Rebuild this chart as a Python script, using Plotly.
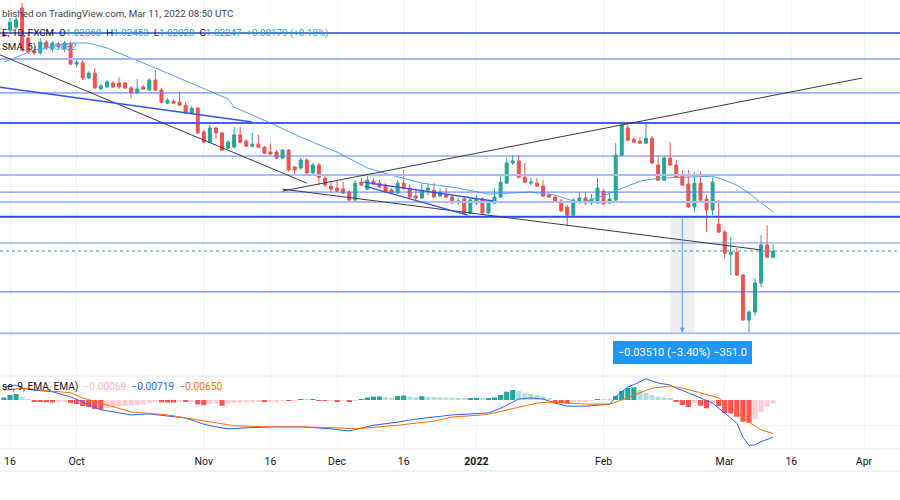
import pandas as pd
import plotly.graph_objects as go

# ---------------- data (EUR/CHF daily, FXCM) ----------------
dates = pd.bdate_range("2021-09-15", "2022-03-11")

open_ = [1.0881, 1.0893, 1.0902, 1.0960, 1.0869, 1.0830, 1.0824, 1.0857, 1.0836, 1.0851, 1.0836, 1.0850,
         1.0790, 1.0794, 1.0748, 1.0763, 1.0715, 1.0721, 1.0733, 1.0733, 1.0733, 1.0718, 1.0703, 1.0721,
         1.0712, 1.0742, 1.0712, 1.0672, 1.0678, 1.0675, 1.0666, 1.0642, 1.0657,
         1.0585, 1.0554, 1.0597, 1.0582, 1.0536, 1.0539, 1.0576, 1.0557, 1.0542, 1.0548, 1.0539, 1.0524,
         1.0524, 1.0506, 1.0530, 1.0479, 1.0476, 1.0500, 1.0461, 1.0485, 1.0445, 1.0421,
         1.0415, 1.0412, 1.0403, 1.0379, 1.0433, 1.0412, 1.0436, 1.0430, 1.0424, 1.0409, 1.0400, 1.0430,
         1.0415, 1.0391, 1.0385, 1.0409, 1.0409, 1.0391, 1.0394, 1.0388, 1.0373, 1.0382, 1.0340,
         1.0370, 1.0382, 1.0340, 1.0370, 1.0388, 1.0430, 1.0491, 1.0497, 1.0448, 1.0430, 1.0430, 1.0421,
         1.0394, 1.0388, 1.0376, 1.0358, 1.0333, 1.0376, 1.0385, 1.0370, 1.0370,
         1.0406, 1.0370, 1.0379, 1.0515, 1.0597, 1.0563, 1.0557, 1.0551, 1.0566, 1.0485, 1.0439, 1.0506,
         1.0485, 1.0451, 1.0427, 1.0358, 1.0430, 1.0382, 1.0349, 1.0306,
         1.0282, 1.0215, 1.0221, 1.0152, 1.0016, 1.0040, 1.0128, 1.0243, 1.02060]
high_ = [1.0884, 1.0930, 1.0933, 1.0975, 1.0884, 1.0842, 1.0869, 1.0863, 1.0860, 1.0857, 1.0860, 1.0858,
         1.0809, 1.0809, 1.0769, 1.0778, 1.0730, 1.0742, 1.0739, 1.0751, 1.0736, 1.0724, 1.0745, 1.0727,
         1.0748, 1.0772, 1.0718, 1.0688, 1.0684, 1.0706, 1.0675, 1.0663, 1.0660,
         1.0591, 1.0606, 1.0600, 1.0585, 1.0560, 1.0600, 1.0600, 1.0563, 1.0582, 1.0576, 1.0542, 1.0551,
         1.0530, 1.0533, 1.0533, 1.0482, 1.0506, 1.0506, 1.0491, 1.0491, 1.0451, 1.0433,
         1.0436, 1.0433, 1.0409, 1.0439, 1.0445, 1.0458, 1.0445, 1.0439, 1.0430, 1.0415, 1.0439, 1.0470,
         1.0424, 1.0415, 1.0430, 1.0430, 1.0430, 1.0415, 1.0415, 1.0394, 1.0385, 1.0388, 1.0385,
         1.0391, 1.0388, 1.0379, 1.0415, 1.0451, 1.0506, 1.0515, 1.0515, 1.0491, 1.0448, 1.0445, 1.0439,
         1.0400, 1.0394, 1.0382, 1.0364, 1.0385, 1.0403, 1.0403, 1.0397, 1.0445,
         1.0412, 1.0406, 1.0551, 1.0612, 1.0609, 1.0569, 1.0569, 1.0615, 1.0573, 1.0515, 1.0512,
         1.0554, 1.0500, 1.0470, 1.0470, 1.0464, 1.0464, 1.0394, 1.0448, 1.0379,
         1.0288, 1.0267, 1.0234, 1.0155, 1.0046, 1.0143, 1.0273, 1.0303, 1.02453]
low_ = [1.0872, 1.0884, 1.0893, 1.0827, 1.0821, 1.0818, 1.0818, 1.0833, 1.0827, 1.0836, 1.0827, 1.0787,
        1.0781, 1.0742, 1.0745, 1.0715, 1.0712, 1.0718, 1.0718, 1.0715, 1.0715, 1.0688, 1.0700, 1.0712,
        1.0709, 1.0709, 1.0672, 1.0669, 1.0669, 1.0663, 1.0639, 1.0639, 1.0579,
        1.0551, 1.0551, 1.0566, 1.0527, 1.0533, 1.0536, 1.0551, 1.0539, 1.0539, 1.0536, 1.0518, 1.0515,
        1.0503, 1.0503, 1.0464, 1.0451, 1.0470, 1.0458, 1.0458, 1.0424, 1.0418, 1.0400,
        1.0403, 1.0397, 1.0376, 1.0370, 1.0421, 1.0409, 1.0424, 1.0415, 1.0400, 1.0397, 1.0397, 1.0409,
        1.0385, 1.0379, 1.0382, 1.0394, 1.0385, 1.0388, 1.0385, 1.0367, 1.0364, 1.0336, 1.0336,
        1.0364, 1.0336, 1.0336, 1.0367, 1.0385, 1.0427, 1.0485, 1.0445, 1.0430, 1.0424, 1.0418, 1.0388,
        1.0385, 1.0370, 1.0343, 1.0300, 1.0330, 1.0370, 1.0364, 1.0364, 1.0367,
        1.0364, 1.0367, 1.0376, 1.0512, 1.0557, 1.0551, 1.0548, 1.0548, 1.0488, 1.0436, 1.0436,
        1.0482, 1.0445, 1.0421, 1.0355, 1.0343, 1.0376, 1.0282, 1.0333, 1.0279,
        1.0203, 1.0152, 1.0149, 1.0013, 0.9976, 1.0028, 1.0116, 1.0203, 1.02028]
close_ = [1.0875, 1.0917, 1.0924, 1.0833, 1.0827, 1.0824, 1.0857, 1.0839, 1.0854, 1.0842, 1.0854, 1.0790,
          1.0796, 1.0748, 1.0763, 1.0718, 1.0724, 1.0736, 1.0721, 1.0721, 1.0718, 1.0703, 1.0715, 1.0715,
          1.0742, 1.0712, 1.0675, 1.0681, 1.0672, 1.0666, 1.0642, 1.0657, 1.0582,
          1.0554, 1.0597, 1.0582, 1.0530, 1.0554, 1.0576, 1.0554, 1.0542, 1.0548, 1.0539, 1.0521, 1.0518,
          1.0506, 1.0530, 1.0470, 1.0470, 1.0500, 1.0461, 1.0485, 1.0448, 1.0424, 1.0412,
          1.0406, 1.0400, 1.0379, 1.0430, 1.0424, 1.0439, 1.0427, 1.0418, 1.0403, 1.0400, 1.0430, 1.0415,
          1.0388, 1.0385, 1.0409, 1.0415, 1.0388, 1.0403, 1.0388, 1.0370, 1.0376, 1.0340, 1.0379,
          1.0382, 1.0340, 1.0373, 1.0388, 1.0433, 1.0491, 1.0497, 1.0448, 1.0433, 1.0433, 1.0421, 1.0391,
          1.0388, 1.0373, 1.0346, 1.0333, 1.0379, 1.0385, 1.0370, 1.0382, 1.0415,
          1.0367, 1.0382, 1.0515, 1.0606, 1.0560, 1.0554, 1.0551, 1.0566, 1.0491, 1.0439, 1.0506,
          1.0485, 1.0448, 1.0424, 1.0358, 1.0430, 1.0379, 1.0349, 1.0433, 1.0282,
          1.0218, 1.0221, 1.0152, 1.0016, 1.0040, 1.0128, 1.0243, 1.0206, 1.02247]

sma_dates = ["2021-09-15", "2021-09-22", "2021-09-30", "2021-10-05", "2021-10-08", "2021-10-14",
             "2021-10-22", "2021-10-29", "2021-11-05", "2021-11-08", "2021-11-16", "2021-11-23",
             "2021-12-01", "2021-12-08", "2021-12-14", "2021-12-21", "2021-12-29", "2022-01-05",
             "2022-01-14", "2022-01-20", "2022-01-26", "2022-01-31", "2022-02-02", "2022-02-09",
             "2022-02-14", "2022-02-23", "2022-02-25", "2022-03-01", "2022-03-03", "2022-03-07",
             "2022-03-09", "2022-03-11"]
sma_vals = [1.0796, 1.0833, 1.0854, 1.0854, 1.0839, 1.0809, 1.0763, 1.0724, 1.0685, 1.0660, 1.0612,
            1.0569, 1.0524, 1.0476, 1.0454, 1.0430, 1.0415, 1.0397, 1.0403, 1.0394, 1.0370, 1.0385,
            1.0400, 1.0436, 1.0445, 1.0448, 1.0451, 1.0439, 1.0424, 1.0400, 1.0370, 1.0343]

macd_dates = ["2021-09-15", "2021-09-17", "2021-09-20", "2021-09-22", "2021-09-27", "2021-09-30",
              "2021-10-04", "2021-10-06", "2021-10-07", "2021-10-12", "2021-10-14", "2021-10-19",
              "2021-10-22", "2021-10-27", "2021-10-29", "2021-11-01", "2021-11-03", "2021-11-05",
              "2021-11-10", "2021-11-17", "2021-11-23", "2021-11-26", "2021-11-30", "2021-12-03",
              "2021-12-07", "2021-12-09", "2021-12-15", "2021-12-20", "2021-12-23", "2021-12-28",
              "2021-12-31", "2022-01-05", "2022-01-07", "2022-01-12", "2022-01-14", "2022-01-18",
              "2022-01-20", "2022-01-24", "2022-01-27", "2022-02-01", "2022-02-02", "2022-02-03",
              "2022-02-04", "2022-02-07", "2022-02-08", "2022-02-10", "2022-02-11", "2022-02-14",
              "2022-02-16", "2022-02-17", "2022-02-21", "2022-02-23", "2022-02-25", "2022-02-28",
              "2022-03-01", "2022-03-03", "2022-03-04", "2022-03-07", "2022-03-08", "2022-03-09",
              "2022-03-10", "2022-03-11"]
macd_vals = [0.0025, 0.0029, 0.0023, 0.0019, 0.0016, 0.0006, -0.0004, -0.0014, -0.0019, -0.0025,
             -0.0029, -0.0027, -0.0031, -0.0035, -0.0043, -0.0047, -0.0052, -0.0056, -0.0054, -0.0052,
             -0.0052, -0.0054, -0.0056, -0.0060, -0.0054, -0.0049, -0.0043, -0.0037, -0.0033, -0.0029,
             -0.0027, -0.0025, -0.0016, 0.0002, 0.0004, 0.0002, -0.0006, -0.0012, -0.0012, -0.0010,
             -0.0008, 0.0006, 0.0016, 0.0025, 0.0030, 0.0041, 0.0037, 0.0033, 0.0029, 0.0023, 0.0014,
             0.0004, -0.0006, -0.0016, -0.0025, -0.0045, -0.0072, -0.0088, -0.0087, -0.0081, -0.0076,
             -0.00719]

signal_dates = ["2021-09-15", "2021-09-20", "2021-09-23", "2021-09-30", "2021-10-04", "2021-10-07",
                "2021-10-14", "2021-10-22", "2021-10-29", "2021-11-08", "2021-11-16", "2021-11-23",
                "2021-12-01", "2021-12-06", "2021-12-08", "2021-12-15", "2021-12-23", "2021-12-28",
                "2022-01-04", "2022-01-06", "2022-01-12", "2022-01-17", "2022-01-19", "2022-01-27",
                "2022-02-02", "2022-02-04", "2022-02-09", "2022-02-11", "2022-02-16", "2022-02-18",
                "2022-02-23", "2022-02-28", "2022-03-02", "2022-03-07", "2022-03-09", "2022-03-11"]
signal_vals = [0.0019, 0.0023, 0.0019, 0.0014, 0.0004, -0.0006, -0.0023, -0.0029, -0.0038, -0.0050,
               -0.0052, -0.0052, -0.0054, -0.0056, -0.0054, -0.0049, -0.0041, -0.0033, -0.0029,
               -0.0025, -0.0014, -0.0006, -0.0004, -0.0008, -0.0008, 0.0000, 0.0014, 0.0023, 0.0027,
               0.0023, 0.0014, 0.0004, -0.0014, -0.0043, -0.0058, -0.00650]

hist_vals = [0.00049, 0.00097, 0.00116, 0.00058, 0.00006, -0.00029, -0.00039, -0.00043, -0.00047,
             -0.00039, -0.00029, -0.00058,
             -0.00078, -0.00116, -0.00136, -0.00175, -0.00184, -0.00155, -0.00136, -0.00126, -0.00116,
             -0.00107, -0.00097, -0.00087, -0.00068, -0.00039, -0.00045, -0.00049, -0.00050, -0.00031,
             -0.00039, -0.00035, -0.00087,
             -0.00101, -0.00078, -0.00068, -0.00111, -0.00068, -0.00054, -0.00049, -0.00043, -0.00035,
             -0.00029, -0.00039, -0.00029, -0.00023, -0.00010, -0.00014, -0.00008, 0.00008, 0.00006,
             0.00010, -0.00012, -0.00017, -0.00012,
             -0.00025, -0.00019, -0.00033, -0.00016, 0.00010, 0.00049, 0.00064, 0.00068, 0.00054,
             0.00047, 0.00078, 0.00087, 0.00068, 0.00058, 0.00074, 0.00064, 0.00058, 0.00052, 0.00049,
             0.00045, 0.00039, 0.00029, 0.00035,
             0.00039, 0.00023, 0.00029, 0.00049, 0.00097, 0.00161, 0.00194, 0.00180, 0.00142, 0.00116,
             0.00097, 0.00064, 0.00033, -0.00033, -0.00064, -0.00068, -0.00039, -0.00029, -0.00023,
             -0.00016, 0.00014,
             0.00008, 0.00006, 0.00078, 0.00175, 0.00233, 0.00246, 0.00194, 0.00142, 0.00097, 0.00064,
             0.00045, 0.00025, -0.00033, -0.00097, -0.00136, -0.00064, -0.00111, -0.00161, -0.00064,
             -0.00116,
             -0.00252, -0.00262, -0.00324, -0.00421, -0.00440, -0.00369, -0.00227, -0.00130, -0.00069]

# analyst drawings (price levels / trendline anchors)
h_levels = [1.0884, 1.0806, 1.0703, 1.0612, 1.0512, 1.0455, 1.0403, 1.0373, 1.0328, 1.0249, 1.0101, 0.9976]
trend_start = [("2021-09-14", 1.0821), ("2021-11-18", 1.0406), ("2021-11-18", 1.0412),
               ("2021-09-14", 1.0721), ("2021-12-07 08:00", 1.0433), ("2021-12-07 14:00", 1.0421)]
trend_end = [("2021-11-24", 1.0430), ("2022-03-31 16:00", 1.0748), ("2022-03-09", 1.0228),
             ("2021-11-11", 1.0615), ("2022-01-05 18:00", 1.0376), ("2021-12-30 14:00", 1.0333)]
measure_top, measure_bottom = 1.0328, 0.9977
measure_start, measure_mid, measure_end = "2022-02-16", "2022-02-18", "2022-02-22"
last_close = 1.02247

tick_dates = ["2021-09-16", "2021-10-01", "2021-11-01", "2021-11-16", "2021-12-01", "2021-12-16",
              "2022-01-03", "2022-02-01", "2022-03-01", "2022-03-16", "2022-04-01"]
tick_text = ["16", "Oct", "Nov", "16", "Dec", "16", "<b>2022</b>", "Feb", "Mar", "16", "Apr"]

# ---------------- styles ----------------
UP, DN = "#26a69a", "#ef5350"
GRID = "#f0f3fa"
FONT = "Roboto"
h_colors = ["#2a4bd7", "#a3b6f7", "#5674f2", "#3f62f0", "#5c7cf5", "#aabdf8",
            "#5576f3", "#aabdf8", "#2850e0", "#6f8cf5", "#4a6cf2", "#a9bdf7"]
h_widths = [1.5, 2, 1, 2, 1, 2, 1, 2, 2, 1, 1, 2]
trend_colors = ["#3a3d47", "#3a3d47", "#3a3d47", "#2f55ee", "#2f55ee", "#2f55ee"]
trend_widths = [1, 1, 1, 1.6, 1.3, 1.3]

hist_colors = []
prev = 0.0
for h in hist_vals:
    if h >= 0:
        hist_colors.append("#26a69a" if h > prev else "#b2dfdb")
    else:
        hist_colors.append("#ff5252" if h < prev else "#ffcdd2")
    prev = h

fig = go.Figure()
fig.add_trace(go.Candlestick(
    x=dates, open=open_, high=high_, low=low_, close=close_,
    increasing=dict(line=dict(color=UP, width=1), fillcolor=UP),
    decreasing=dict(line=dict(color=DN, width=1), fillcolor=DN),
    whiskerwidth=0, xaxis="x", yaxis="y", showlegend=False))
fig.add_trace(go.Scatter(x=sma_dates, y=sma_vals, mode="lines",
                         line=dict(color="#4fa3f7", width=1), xaxis="x", yaxis="y", showlegend=False))
fig.add_trace(go.Bar(x=dates, y=hist_vals, marker=dict(color=hist_colors, line=dict(width=0)),
                     width=0.85 * 86400000, xaxis="x2", yaxis="y2", showlegend=False))
fig.add_trace(go.Scatter(x=macd_dates, y=macd_vals, mode="lines",
                         line=dict(color="#2962ff", width=1), xaxis="x2", yaxis="y2", showlegend=False))
fig.add_trace(go.Scatter(x=signal_dates, y=signal_vals, mode="lines",
                         line=dict(color="#ff6d00", width=1), xaxis="x2", yaxis="y2", showlegend=False))

shapes = []
# measure box
shapes.append(dict(type="rect", xref="x", yref="y", x0=measure_start, x1=measure_end,
                   y0=measure_bottom, y1=measure_top, fillcolor="rgba(120,123,134,0.13)",
                   line=dict(width=0), layer="below"))
for lvl, c, w in zip(h_levels, h_colors, h_widths):
    shapes.append(dict(type="line", xref="paper", yref="y", x0=0, x1=1, y0=lvl, y1=lvl,
                       line=dict(color=c, width=w), layer="above"))
for (xa, ya), (xb, yb), c, w in zip(trend_start, trend_end, trend_colors, trend_widths):
    shapes.append(dict(type="line", xref="x", yref="y", x0=xa, y0=ya, x1=xb, y1=yb,
                       line=dict(color=c, width=w), layer="above"))
shapes.append(dict(type="line", xref="paper", yref="y", x0=0, x1=1, y0=last_close, y1=last_close,
                   line=dict(color="#26a69a", width=1, dash="dot"), layer="above"))
# pane separators / time axis band
for yp in [0.248, 0.102, 0.058]:
    shapes.append(dict(type="line", xref="paper", yref="paper", x0=0, x1=1, y0=yp, y1=yp,
                       line=dict(color="#e0e3eb", width=1), layer="above"))

NB = "\u00a0"
ann = []
ann.append(dict(x=0, y=1 - 13 / 500, xref="paper", yref="paper", xanchor="left", yanchor="middle",
                showarrow=False, text="blished on TradingView.com, Mar 11, 2022 08:50 UTC",
                font=dict(family=FONT, size=9.8, color="#434651")))
tc = "#26a69a"
ohlc_txt = (f"E, 1D, FXCM{NB}{NB}O<span style='color:{tc}'>1.02060</span>{NB}{NB}"
            f"H<span style='color:{tc}'>1.02453</span>{NB}{NB}L<span style='color:{tc}'>1.02028</span>"
            f"{NB}{NB}C<span style='color:{tc}'>1.02247</span>{NB}{NB}"
            f"<span style='color:{tc}'>+0.00179 (+0.18%)</span>")
ann.append(dict(x=0, y=1 - 33 / 500, xref="paper", yref="paper", xanchor="left", yanchor="middle",
                showarrow=False, text=ohlc_txt, font=dict(family=FONT, size=9.8, color="#131722")))
ann.append(dict(x=0, y=1 - 47 / 500, xref="paper", yref="paper", xanchor="left", yanchor="middle",
                showarrow=False,
                text=f"SMA, 5){NB}{NB}<span style='color:#4fa3f7'>1.03882</span>",
                font=dict(family=FONT, size=9.8, color="#131722")))
macd_txt = (f"se, 9, EMA, EMA){NB}{NB}<span style='color:#ffb3bd'>\u22120.00069</span>{NB}{NB}"
            f"<span style='color:#2962ff'>\u22120.00719</span>{NB}{NB}"
            f"<span style='color:#ff6d00'>\u22120.00650</span>")
ann.append(dict(x=0, y=1 - 387 / 500, xref="paper", yref="paper", xanchor="left", yanchor="middle",
                showarrow=False, text=macd_txt, font=dict(family=FONT, size=10.2, color="#131722")))
# measure arrow + label
ann.append(dict(x=measure_mid, y=measure_bottom, xref="x", yref="y", ax=measure_mid, ay=measure_top,
                axref="x", ayref="y", showarrow=True, arrowhead=2, arrowsize=1, arrowwidth=1,
                arrowcolor="#5b9cf6", text=""))
ann.append(dict(x=measure_mid, y=0.9919, xref="x", yref="y", xanchor="center", yanchor="middle",
                showarrow=False, text="\u22120.03510 (\u22123.40%) \u2212351.0",
                bgcolor="#2196f3", bordercolor="#2196f3", borderpad=4,
                font=dict(family=FONT, size=11, color="white")))

x_range = ["2021-09-14 08:22", "2022-04-08 22:34"]
rb = [dict(bounds=["sat", "mon"])]
fig.update_layout(
    width=900, height=500, margin=dict(l=0, r=0, t=0, b=0),
    paper_bgcolor="white", plot_bgcolor="white", showlegend=False, hovermode=False,
    shapes=shapes, annotations=ann,
    xaxis=dict(domain=[0, 1], anchor="y", range=x_range, rangebreaks=rb, tickvals=tick_dates,
               showticklabels=False, showgrid=True, gridcolor=GRID, zeroline=False, showline=False,
               rangeslider=dict(visible=False), ticks=""),
    xaxis2=dict(domain=[0, 1], anchor="y2", range=x_range, rangebreaks=rb, tickvals=tick_dates,
                ticktext=tick_text, showticklabels=True, showgrid=True, gridcolor=GRID,
                zeroline=False, showline=False, ticks="", ticklabelstandoff=4,
                tickfont=dict(family=FONT, size=10.5, color="#131722")),
    yaxis=dict(domain=[0.25, 1], range=[0.98495, 1.09842], showticklabels=False, showgrid=False,
               zeroline=False),
    yaxis2=dict(domain=[0.102, 0.248], range=[-0.009506, 0.004656], showticklabels=False,
                showgrid=True, gridcolor=GRID, tickvals=[-0.005, 0.005], zeroline=False),
)

fig.write_html("out.html")
